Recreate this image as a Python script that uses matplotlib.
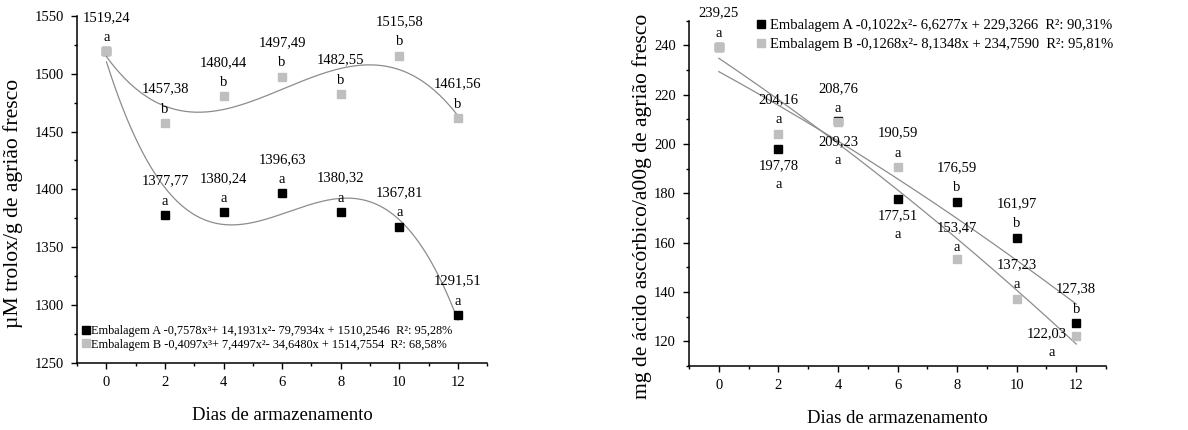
import numpy as np
import matplotlib
matplotlib.use('Agg')
import matplotlib.pyplot as plt
from matplotlib.ticker import MultipleLocator

plt.rcParams['font.family'] = ['Liberation Serif', 'DejaVu Serif']

# Dias de armazenamento
dias = [0, 2, 4, 6, 8, 10, 12]

# Capacidade antioxidante (uM trolox/g)
trolox_a = [1519.24, 1377.77, 1380.24, 1396.63, 1380.32, 1367.81, 1291.51]
trolox_b = [1519.24, 1457.38, 1480.44, 1497.49, 1482.55, 1515.58, 1461.56]
letras_trolox_a = ['', 'a', 'a', 'a', 'a', 'a', 'a']
letras_trolox_b = ['a', 'b', 'b', 'b', 'b', 'b', 'b']
coef_trolox_a = [-0.7578, 14.1931, -79.7934, 1510.2546]
coef_trolox_b = [-0.4097, 7.4497, -34.6480, 1514.7554]
leg_trolox_a = 'Embalagem A -0,7578x³+ 14,1931x²- 79,7934x + 1510,2546  R²: 95,28%'
leg_trolox_b = 'Embalagem B -0,4097x³+ 7,4497x²- 34,6480x + 1514,7554  R²: 68,58%'

# Acido ascorbico (mg/100g)
vitc_a = [239.25, 197.78, 209.23, 177.51, 176.59, 161.97, 127.38]
vitc_b = [239.25, 204.16, 208.76, 190.59, 153.47, 137.23, 122.03]
letras_vitc_a = ['', 'a', 'a', 'a', 'b', 'b', 'b']
letras_vitc_b = ['a', 'a', 'a', 'a', 'a', 'a', 'a']
coef_vitc_a = [-0.1022, -6.6277, 229.3266]
coef_vitc_b = [-0.1268, -8.1348, 234.7590]
leg_vitc_a = 'Embalagem A -0,1022x²- 6,6277x + 229,3266  R²: 90,31%'
leg_vitc_b = 'Embalagem B -0,1268x²- 8,1348x + 234,7590  R²: 95,81%'

# label placement (offsets in points: number, letter)
ACIMA = ((0, 24.5), (0, 10))
ABAIXO = ((0, -11.5), (0, -25))
pos_vitc_a = [None, ABAIXO, ((0, -14.5), (0, -28)), ABAIXO, ACIMA, ACIMA, ACIMA]
pos_vitc_b = [ACIMA, ACIMA, ACIMA, ACIMA, ((0, 22), (0, 8)), ACIMA, ((-21, 2), (-18, -12))]

PRETO = '#000000'
CINZA = '#bfbfbf'
LINHA = '#8c8c8c'


def fmt(v):
    return f'{v:.2f}'.replace('.', ',')


def rotular(ax, xs, ys, letras, posicoes):
    for x, y, l, p in zip(xs, ys, letras, posicoes):
        if p is None or l == '':
            continue
        (nx, ny), (lx, ly) = p
        ax.annotate(fmt(y), (x, y), xytext=(nx, ny), textcoords='offset points',
                    ha='center', va='center', fontsize=10.5)
        ax.annotate(l, (x, y), xytext=(lx, ly), textcoords='offset points',
                    ha='center', va='center', fontsize=10.5)


def estilo(ax):
    for s in ['top', 'right']:
        ax.spines[s].set_visible(False)
    for s in ['left', 'bottom']:
        ax.spines[s].set_linewidth(1.1)
    ax.xaxis.set_major_locator(MultipleLocator(2))
    ax.xaxis.set_minor_locator(MultipleLocator(1))
    ax.tick_params(which='major', direction='out', length=4.5, width=1, labelsize=10.5, pad=5)
    ax.tick_params(which='minor', direction='out', length=2.5, width=1)
    ax.set_xlim(-1, 13)
    ax.set_xlabel('Dias de armazenamento', fontsize=13.5, labelpad=13)


fig = plt.figure(figsize=(11.88, 4.30), dpi=100)
xs = np.linspace(0, 12, 200)

# ---- painel da esquerda
ax1 = fig.add_axes([0.065, 0.156, 0.345, 0.807])
ax1.plot(xs, np.polyval(coef_trolox_a, xs), color=LINHA, lw=0.9)
ax1.plot(xs, np.polyval(coef_trolox_b, xs), color=LINHA, lw=0.9)
ha, = ax1.plot(dias, trolox_a, 's', color=PRETO, ms=5.2, ls='none')
hb, = ax1.plot(dias, trolox_b, 's', color=CINZA, ms=5.2, ls='none')
rotular(ax1, dias, trolox_a, letras_trolox_a, [ACIMA] * 7)
rotular(ax1, dias, trolox_b, letras_trolox_b, [ACIMA] * 7)
estilo(ax1)
ax1.set_ylim(1250, 1550)
ax1.yaxis.set_major_locator(MultipleLocator(50))
ax1.yaxis.set_minor_locator(MultipleLocator(25))
ax1.set_ylabel('µM trolox/g de agrião fresco', fontsize=15.6)
ax1.yaxis.set_label_coords(-0.132, 0.46)
ax1.legend([ha, hb], [leg_trolox_a, leg_trolox_b], loc='lower left',
           bbox_to_anchor=(0.012, 0.035), borderaxespad=0, borderpad=0,
           handlelength=0.6, handletextpad=0.15, labelspacing=0.15,
           frameon=False, fontsize=8.8, markerscale=1.1)

# ---- painel da direita
ax2 = fig.add_axes([0.58, 0.149, 0.351, 0.803])
ax2.plot(xs, np.polyval(coef_vitc_a, xs), color=LINHA, lw=0.9)
ax2.plot(xs, np.polyval(coef_vitc_b, xs), color=LINHA, lw=0.9)
ha2, = ax2.plot(dias, vitc_a, 's', color=PRETO, ms=5.2, ls='none')
hb2, = ax2.plot(dias, vitc_b, 's', color=CINZA, ms=5.2, ls='none')
rotular(ax2, dias, vitc_a, letras_vitc_a, pos_vitc_a)
rotular(ax2, dias, vitc_b, letras_vitc_b, pos_vitc_b)
estilo(ax2)
ax2.set_ylim(110, 250)
ax2.yaxis.set_major_locator(MultipleLocator(20))
ax2.yaxis.set_minor_locator(MultipleLocator(10))
ax2.set_ylabel('mg de ácido ascórbico/a00g de agrião fresco', fontsize=15.6)
ax2.yaxis.set_label_coords(-0.088, 0.462)
fig.legend([ha2, hb2], [leg_vitc_a, leg_vitc_b], loc='upper left',
           bbox_to_anchor=(0.637, 0.957), borderaxespad=0, borderpad=0,
           handlelength=0.6, handletextpad=0.3, labelspacing=0.4,
           frameon=False, fontsize=10.5, markerscale=1.1)

fig.savefig('out.png', dpi=100)
